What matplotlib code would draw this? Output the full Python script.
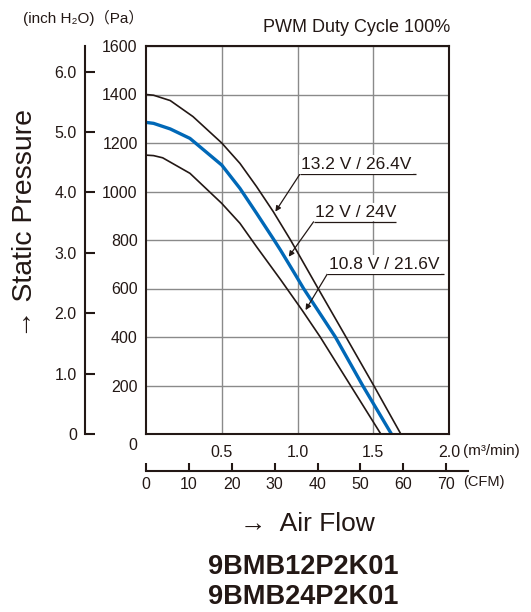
import matplotlib
matplotlib.use("Agg")
import matplotlib.pyplot as plt
from matplotlib.ticker import FixedLocator

plt.rcParams['font.family'] = ['Liberation Sans', 'DejaVu Sans']

# ---- data ----
flow_high = [0, 0.05, 0.16, 0.31, 0.5, 0.62, 0.73, 0.84, 0.954, 1.136, 1.32, 1.503, 1.682]
p_high = [1400, 1397, 1375, 1309, 1200, 1116, 1020, 917, 800, 600, 400, 200, 0]
flow_mid = [0, 0.05, 0.16, 0.29, 0.5, 0.62, 0.73, 0.84, 0.887, 0.98, 1.04, 1.25, 1.43, 1.62]
p_mid = [1285, 1281, 1258, 1219, 1109, 1013, 910, 805, 759, 663, 600, 400, 200, 0]
flow_low = [0, 0.05, 0.11, 0.29, 0.5, 0.62, 0.73, 0.89, 1.03, 1.15, 1.35, 1.55]
p_low = [1150, 1148, 1139, 1075, 951, 869, 772, 635, 511, 400, 200, 0]

labels = ["13.2 V / 26.4V", "12 V / 24V", "10.8 V / 21.6V"]
tip_x = [0.854, 0.942, 1.053]
tip_y = [917, 731, 511]
line_x0 = [1.015, 1.106, 1.197]
line_x1 = [1.78, 1.649, 1.969]
line_y = [1071, 875, 660]

pa_ticks = [200, 400, 600, 800, 1000, 1200, 1400, 1600]
m3_ticks = [0.5, 1.0, 1.5, 2.0]
inch_ticks = [0, 1.0, 2.0, 3.0, 4.0, 5.0, 6.0]
inch_labels = ["0", "1.0", "2.0", "3.0", "4.0", "5.0", "6.0"]
cfm_ticks = [0, 10, 20, 30, 40, 50, 60, 70]

PA_PER_INCH = 249.089
M3_PER_CFM = 0.0283168

DARK = '#231815'
BLUE = '#0068b7'
GRID = '#8a8a8a'

fig = plt.figure(figsize=(5.31, 6.12), dpi=100)
ax_l, ax_b, ax_w, ax_h = 146/531, 1-434/612, 303/531, 388/612
ax = fig.add_axes([ax_l, ax_b, ax_w, ax_h])
ax.set_xlim(0, 2.0)
ax.set_ylim(0, 1600)

ax.plot(flow_high, p_high, color=DARK, lw=1.2, zorder=3)
ax.plot(flow_mid, p_mid, color=BLUE, lw=2.4, zorder=3)
ax.plot(flow_low, p_low, color=DARK, lw=1.2, zorder=3)

ax.set_yticks(pa_ticks)
ax.set_xticks(m3_ticks)
ax.set_xticklabels([f"{v:.1f}" for v in m3_ticks])
ax.tick_params(axis='both', length=0, labelsize=11.5, colors=DARK)
ax.tick_params(axis='y', pad=6)
ax.tick_params(axis='x', pad=8)
ax.grid(True, color=GRID, lw=1.0, zorder=0)
for sp in ax.spines.values():
    sp.set_color(DARK)
    sp.set_linewidth(1.5)
    sp.set_zorder(4)

# origin label
ax.annotate("0", xy=(0, 0), xytext=(-6.5, -8), textcoords='offset points',
            ha='right', va='center', fontsize=11.5, color=DARK)
ax.annotate("(m³/min)", xy=(2.0, 0), xytext=(10, -12.5), textcoords='offset points',
            ha='left', va='center', fontsize=11, color=DARK)

# annotations
for lab, tx, ty, x0, x1, yy in zip(labels, tip_x, tip_y, line_x0, line_x1, line_y):
    ax.annotate("", xy=(tx, ty), xytext=(x0, yy),
                arrowprops=dict(arrowstyle='-|>', color=DARK, lw=0.9,
                                mutation_scale=8, shrinkA=0, shrinkB=0), zorder=5)
    ax.plot([x0, x1], [yy, yy], color=DARK, lw=0.9, zorder=5, solid_capstyle='butt')
    ax.annotate(lab, xy=(x0, yy), xytext=(1, 1.5), textcoords='offset points',
                ha='left', va='bottom', fontsize=12.5, color=DARK, zorder=5,
                bbox=dict(boxstyle='square,pad=0.1', fc='white', ec='none'))

# secondary inch H2O axis
sec = ax.secondary_yaxis(-0.201, functions=(lambda p: p / PA_PER_INCH,
                                            lambda i: i * PA_PER_INCH))
sec.yaxis.set_major_locator(FixedLocator(inch_ticks))
sec.set_yticklabels(inch_labels)
sec.tick_params(axis='y', direction='in', length=7.5, width=1.5, pad=6,
                labelsize=11.5, colors=DARK)
sec.spines['left'].set_color(DARK)
sec.spines['left'].set_linewidth(1.5)

# CFM axis
cfm_max = 75
cfm_w = ax_w * (cfm_max * M3_PER_CFM) / 2.0
cax = fig.add_axes([ax_l, 1-470.5/612, cfm_w, 0.001])
cax.set_xlim(0, cfm_max)
cax.set_ylim(0, 1)
for k in ['top', 'left', 'right']:
    cax.spines[k].set_visible(False)
cax.spines['bottom'].set_color(DARK)
cax.spines['bottom'].set_linewidth(1.5)
cax.set_yticks([])
cax.set_xticks(cfm_ticks)
cax.tick_params(axis='x', direction='in', length=6, width=1.5, pad=5,
                labelsize=11.5, colors=DARK)
cax.patch.set_visible(False)
fig.text(463/531, 1-482/612, "(CFM)", ha='left', va='center', fontsize=10.5, color=DARK)

# texts
fig.text(23/531, 1-18/612, "(inch H₂O)（Pa）", ha='left', va='center', fontsize=11,
         color=DARK, family=['Liberation Sans', 'DejaVu Sans', 'Noto Sans CJK JP'])
fig.text(450/531, 1-28/612, "PWM Duty Cycle 100%", ha='right', va='center',
         fontsize=13, color=DARK)
fig.text(25/531, 1-223/612, "→ Static Pressure", rotation=90, ha='center',
         va='center', fontsize=20.5, color=DARK)
fig.text(307/531, 1-524/612, "→  Air Flow", ha='center', va='center',
         fontsize=19, color=DARK)
fig.text(303/531, 1-567/612, "9BMB12P2K01", ha='center', va='center',
         fontsize=19.5, fontweight='bold', color=DARK)
fig.text(303/531, 1-597/612, "9BMB24P2K01", ha='center', va='center',
         fontsize=19.5, fontweight='bold', color=DARK)

fig.savefig("out.png", dpi=100)
